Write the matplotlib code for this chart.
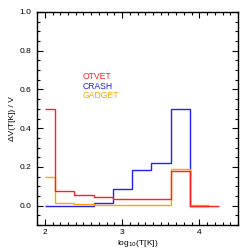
import matplotlib
matplotlib.use("Agg")
import matplotlib.pyplot as plt
from matplotlib.ticker import MultipleLocator

plt.rcParams['font.family'] = ['Liberation Sans', 'DejaVu Sans']

# bin edges in log10(T[K])
edges = [2.0, 2.13, 2.38, 2.63, 2.88, 3.13, 3.38, 3.63, 3.88, 4.13, 4.26]

# volume fractions per bin
otvet = [0.50, 0.078, 0.053, 0.043, 0.036, 0.035, 0.034, 0.178, 0.0, 0.0]
crash = [0.0, 0.0, 0.0, 0.012, 0.085, 0.185, 0.222, 0.497, 0.0]
gadget = [0.15, 0.012, 0.010, 0.006, 0.005, 0.005, 0.005, 0.19, 0.005]

names = ['OTVET', 'CRASH', 'GADGET']
colors = ['#ff2020', '#2020ff', '#ffa500']

fig = plt.figure(figsize=(2.49, 2.49), dpi=100)
ax = fig.add_axes([0.149, 0.096, 0.807, 0.856])

# blue first, then orange, red on top (no outer verticals)
ax.stairs(crash, edges[:len(crash) + 1], color=colors[1], lw=1.0, baseline=None)
ax.stairs(gadget, edges[:len(gadget) + 1], color=colors[2], lw=1.0, baseline=None)
ax.stairs(otvet, edges[:len(otvet) + 1], color=colors[0], lw=1.0, baseline=None)

ax.set_xlim(1.9, 4.5)
ax.set_ylim(-0.1, 1.0)
ax.set_xticks([2, 3, 4])
ax.set_yticks([0.0, 0.2, 0.4, 0.6, 0.8, 1.0])
ax.xaxis.set_minor_locator(MultipleLocator(0.1))
ax.yaxis.set_minor_locator(MultipleLocator(0.05))
ax.tick_params(which='both', direction='in', top=True, right=True, labelsize=6, width=0.8)
ax.tick_params(which='major', length=4)
ax.tick_params(axis='x', which='major', pad=3)
ax.tick_params(axis='y', which='major', pad=4)
ax.tick_params(which='minor', length=2)
for s in ax.spines.values():
    s.set_linewidth(1.0)

ax.set_xlabel('log$_{10}$(T[K])', fontsize=6, labelpad=1)
ax.set_ylabel('ΔV(T[K]) / V', fontsize=6, labelpad=3)

ypos = [0.695, 0.652, 0.607]
for n, c, y in zip(names, colors, ypos):
    ax.text(0.229, y, n, color=c, fontsize=6.2, transform=ax.transAxes, va='center')

fig.savefig('out.png', dpi=100)
